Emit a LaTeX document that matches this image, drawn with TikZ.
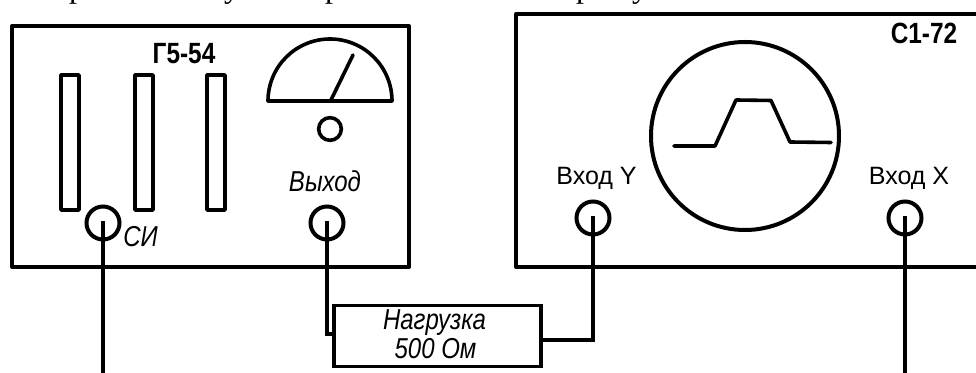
\documentclass[tikz,border=0pt]{standalone}
\usepackage{fontspec}
\setmainfont{Liberation Sans}
\newfontfamily\serifcut{Liberation Serif}
\newcommand{\tallbox}[1]{\scalebox{1}[1.2]{#1}}
\begin{document}
\begin{tikzpicture}[x=0.75pt,y=-0.75pt,
  ln/.style={line width=3pt,line join=round,draw=black},
  thin ln/.style={line width=2.7pt,line join=round,draw=black},
  wire/.style={line width=3pt,line join=miter,draw=black},
  slider/.style={thin ln},
  jack/.style={circle,draw=black,line width=3pt,minimum size=24.75pt,inner sep=0pt},
  lbl/.style={inner sep=0pt,font=\fontsize{18}{20}\selectfont\itshape},
  plain lbl/.style={inner sep=0pt,font=\fontsize{18.8}{20}\selectfont},
  title/.style={inner sep=0pt,font=\fontsize{18.3}{20}\selectfont\bfseries},
  cut/.style={inner sep=0pt,anchor=base,font=\fontsize{24}{24}\selectfont\serifcut}]
\useasboundingbox (0,0) rectangle (976,373);
\begin{scope}
\clip (0,0) rectangle (976,373);
% cropped line of text above the figure
\node[cut] (c1) at (77,-2) {р};
\node[cut] (c2) at (232,-2) {у};
\node[cut] (c3) at (333,-2) {р};
\node[cut] (c4) at (584,-2) {р};
\node[cut] (c5) at (640,-2) {у};
% generator
\draw[ln] (12,26) rectangle (409,267);
\draw[slider] (61,75) rectangle (79,210);
\draw[slider] (135,75) rectangle (153,210);
\draw[slider] (207,75) rectangle (225,210);
\draw[thin ln] (268,101) arc[start angle=180,end angle=360,radius=62] -- cycle;
\draw[thin ln,line cap=round] (331,100) -- (353,55);
\node[circle,draw=black,line width=2.7pt,minimum size=17pt,inner sep=0pt] (knob) at (330,129) {};
\node[title] (g) at (184,54) {\tallbox{Г5-54}};
\node[jack] (si) at (103,223) {};
\node[jack] (out) at (327,223) {};
\node[lbl] (silbl) at (140.5,237) {\tallbox{СИ}};
\node[lbl] (outlbl) at (325,181.5) {\tallbox{Выход}};
% oscilloscope
\draw[ln] (990,14) -- (516,14) -- (516,267) -- (990,267);
\node[title] (s) at (924,33) {\tallbox{С1-72}};
\node[circle,draw=black,line width=3pt,minimum size=141pt,inner sep=0pt] (screen) at (745,136) {};
\draw[thin ln,line cap=round] (674,146) -- (715,146) -- (736,100) -- (771,100.5) -- (790,142) -- (831,142.5);
\node[jack] (y) at (593,218) {};
\node[jack] (xin) at (905,218) {};
\node[plain lbl] (ylbl) at (596.5,178) {Вход Y};
\node[plain lbl] (xlbl) at (909,178) {Вход X};
% load
\node[draw=black,line width=2.7pt,minimum width=155pt,minimum height=46pt,inner sep=0pt] (load) at (437.5,336) {};
\node[lbl] (l1) at (434.5,322.5) {\tallbox{Нагрузка}};
\node[lbl] (l2) at (435.5,349) {\tallbox{500 Ом}};
% wires
\coordinate (a) at (103,221);
\coordinate (b) at (103,380);
\coordinate (c) at (327,221);
\coordinate (d) at (905,216);
\coordinate (e) at (905,380);
\coordinate (f) at (593,216);
\draw[wire] (a) -- (b);
\draw[wire] (d) -- (e);
\draw[wire] (c) |- (load.west |- 0,334);
\draw[wire] (f) |- (load.east |- 0,340);
\end{scope}
\end{tikzpicture}
\end{document}
